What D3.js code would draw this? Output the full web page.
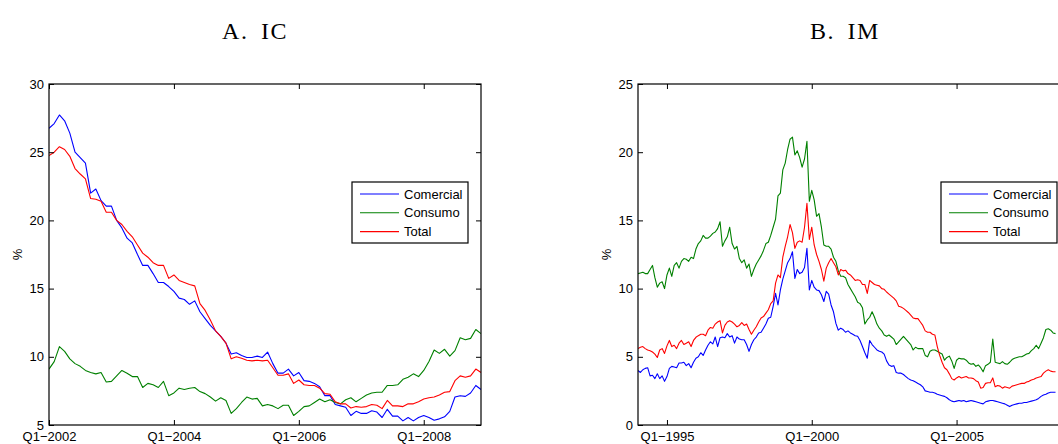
<!DOCTYPE html>
<html><head><meta charset="utf-8">
<script src="https://cdn.jsdelivr.net/npm/d3@7"></script>
<style>
body{margin:0;background:#fff;}
svg{display:block;}
.tick text{font-family:"Liberation Sans",Arial,sans-serif;font-size:13px;fill:#000;}
</style></head>
<body>
<svg id="chart" width="1058" height="444"></svg>
<script>
// ---------- DATA ----------
const seriesNames = ["Comercial", "Consumo", "Total"];
const seriesColors = ["#0000ff", "#008000", "#ff0000"];

// Panel A: IC, monthly Jan 2002 - Dec 2008
const titleA = "A. IC";
const xTickMonthsA = [0, 24, 48, 72];
const xTickLabelsA = ["Q1−2002", "Q1−2004", "Q1−2006", "Q1−2008"];
const yTicksA = [5, 10, 15, 20, 25, 30];
const comercialA = [26.75,27.1,27.73,27.3,26.4,25.0,24.6,24.2,22.0,22.3,
 21.45,21.05,21.05,20.0,19.45,18.7,18.35,17.5,16.7,16.7,
 16.1,15.45,15.45,15.15,14.8,14.3,14.2,13.85,14.1,13.3,
 12.8,12.3,11.9,11.5,11.0,10.2,10.3,10.1,9.95,9.95,
 10.05,9.95,10.35,9.5,8.8,8.8,9.1,8.6,8.85,8.25,
 8.2,8.05,7.8,7.15,7.15,6.5,6.4,6.3,5.7,6.0,
 5.85,5.85,6.05,5.95,5.55,6.15,5.65,5.65,5.3,5.55,
 5.3,5.55,5.7,5.55,5.35,5.45,5.6,6.0,7.05,7.15,
 7.1,7.35,7.9,7.6];
const consumoA = [9.1,9.65,10.75,10.4,9.85,9.5,9.3,9.0,8.85,8.75,
 8.85,8.15,8.2,8.6,9.0,8.8,8.55,8.55,7.75,8.05,
 7.95,7.75,8.2,7.15,7.35,7.7,7.6,7.7,7.75,7.45,
 7.3,7.05,6.75,7.0,6.8,5.85,6.2,6.65,7.05,6.9,
 6.95,6.4,6.5,6.4,6.2,6.45,6.45,5.7,6.0,6.35,
 6.4,6.65,6.9,6.7,6.85,6.65,6.55,6.85,7.0,6.7,
 6.95,7.2,7.35,7.4,7.4,7.9,7.9,7.95,8.35,8.5,
 8.75,8.55,9.0,9.65,10.5,10.25,10.55,10.05,10.45,11.4,
 11.25,11.35,12.0,11.7];
const totalA = [24.75,25.0,25.4,25.2,24.7,23.8,23.4,23.05,21.6,21.55,
 21.4,20.6,20.6,20.0,19.7,19.2,18.8,18.2,17.6,17.3,
 16.9,16.7,16.7,15.75,16.0,15.6,15.45,15.3,15.2,13.9,
 13.4,12.7,11.9,11.5,11.0,9.85,10.0,9.9,9.75,9.7,
 9.75,9.7,9.75,9.2,8.65,8.65,8.75,8.05,8.3,7.95,
 7.9,7.9,7.7,7.3,7.25,6.7,6.55,6.55,6.25,6.35,
 6.3,6.35,6.5,6.45,6.2,6.8,6.4,6.4,6.35,6.55,
 6.55,6.7,6.9,7.0,7.05,7.2,7.4,7.45,8.25,8.6,
 8.5,8.6,9.1,8.85];

// Panel B: IM, monthly Jan 1994 - Dec 2008 (visible part)
const titleB = "B. IM";
const xTickMonthsB = [12, 72, 132];
const xTickLabelsB = ["Q1−1995", "Q1−2000", "Q1−2005"];
const yTicksB = [0, 5, 10, 15, 20, 25];
const comercialB = [4.0,3.85,4.05,4.15,4.2,3.6,3.65,3.4,3.75,3.4,
 3.6,3.2,3.55,4.15,4.3,4.25,4.2,4.55,4.55,4.6,
 4.35,4.5,4.2,4.6,4.9,5.0,5.3,5.1,5.5,5.85,
 6.1,5.95,6.45,5.75,6.4,6.45,6.4,6.7,6.45,6.55,
 6.0,6.45,6.3,6.25,6.25,5.9,5.4,5.9,6.25,6.45,
 6.75,6.8,7.1,7.4,7.82,7.9,8.7,9.65,8.8,9.9,
 10.7,11.3,11.9,12.2,12.7,10.75,11.4,11.1,11.2,11.55,
 12.95,9.9,10.6,10.1,9.9,9.85,9.55,9.05,9.8,9.6,
 8.8,8.3,7.45,6.95,7.1,7.0,6.8,6.9,6.75,6.65,
 6.55,6.5,6.2,5.75,5.3,4.9,6.2,5.9,5.7,5.5,
 5.4,5.35,5.2,4.7,4.4,4.3,4.35,3.85,3.8,3.8,
 3.7,3.55,3.4,3.3,3.25,3.15,3.05,2.95,2.8,2.5,
 2.45,2.4,2.4,2.35,2.25,2.2,2.15,2.1,2.0,1.85,
 1.75,1.7,1.75,1.8,1.75,1.8,1.7,1.75,1.8,1.75,
 1.7,1.65,1.6,1.55,1.7,1.75,1.8,1.8,1.75,1.7,
 1.65,1.6,1.55,1.45,1.35,1.45,1.5,1.55,1.6,1.6,
 1.65,1.65,1.7,1.75,1.8,1.85,1.95,2.1,2.2,2.25,
 2.35,2.4,2.4,2.4];
const consumoB = [11.1,11.15,11.2,11.1,11.1,11.4,11.7,10.8,10.1,10.4,
 10.5,10.0,11.0,11.5,10.9,11.7,11.9,11.5,12.0,12.2,
 12.15,12.0,12.3,12.2,12.9,13.3,13.5,13.9,13.7,13.7,
 13.85,14.05,14.15,14.4,14.9,13.1,13.5,13.8,14.5,13.3,
 12.9,13.1,12.2,11.9,12.1,11.5,11.8,10.9,11.4,11.8,
 12.1,12.4,12.8,13.3,13.4,13.9,14.5,15.1,16.8,17.0,
 18.7,19.2,20.2,20.95,21.1,19.8,20.1,19.6,18.9,19.5,
 20.8,16.4,17.2,16.5,15.3,15.5,14.5,13.2,13.1,13.1,
 12.9,12.3,12.0,11.3,10.9,10.9,10.8,10.3,10.0,9.7,
 9.4,9.0,8.9,8.6,7.4,7.7,7.9,8.3,7.9,7.4,
 7.1,6.9,6.6,6.5,6.6,6.45,6.3,5.9,6.1,6.3,
 6.5,6.3,6.1,5.9,5.5,5.7,5.6,5.6,5.6,5.1,
 5.0,5.4,5.5,5.5,5.4,5.3,5.2,4.75,4.95,5.05,
 4.7,4.15,4.75,4.9,4.85,4.85,4.75,4.55,4.45,4.5,
 4.3,4.4,4.2,3.9,4.35,4.45,4.6,6.3,4.6,4.55,
 4.5,4.65,4.5,4.45,4.6,4.8,4.9,4.95,5.0,5.0,
 5.1,5.2,5.25,5.45,5.6,5.85,5.6,6.0,6.4,7.0,
 7.05,6.95,6.75,6.7];
const totalB = [5.6,5.7,5.75,5.6,5.5,5.45,5.35,5.2,4.95,5.5,
 5.6,5.25,5.8,6.2,5.75,5.85,5.6,6.0,6.2,5.9,
 6.0,6.1,5.75,6.2,6.43,6.55,6.65,6.65,6.55,6.95,
 7.15,7.1,7.4,7.55,7.65,6.75,7.3,7.55,7.65,7.55,
 7.4,7.2,7.3,7.5,7.3,7.4,7.0,6.65,6.95,7.2,
 7.55,7.85,7.95,8.2,8.45,8.9,9.1,10.4,11.0,10.8,
 12.3,13.1,13.8,14.7,14.1,12.95,13.4,13.5,13.4,14.5,
 16.25,13.6,14.5,13.2,12.5,12.0,11.4,10.55,11.5,11.9,
 12.2,11.9,11.6,11.0,11.4,11.3,11.35,11.1,11.0,10.8,
 10.6,10.65,10.6,10.3,10.3,9.65,10.6,10.45,10.3,10.25,
 10.2,10.0,9.95,9.75,9.6,9.45,9.3,9.1,8.7,8.65,
 8.55,8.4,8.25,8.05,7.85,7.8,7.8,7.55,7.3,6.9,
 6.8,6.8,6.65,6.6,5.75,5.1,4.6,4.2,4.05,3.75,
 3.4,3.3,3.45,3.55,3.45,3.5,3.55,3.45,3.45,3.4,
 3.25,3.15,2.7,2.75,3.05,3.1,3.1,3.45,2.8,2.9,
 2.85,2.7,2.8,2.75,2.7,2.85,2.9,2.95,3.0,3.05,
 3.05,3.15,3.2,3.3,3.35,3.45,3.5,3.55,3.8,3.95,
 4.05,3.95,3.9,3.9];

// ---------- DRAW ----------
const svg = d3.select("#chart");
const fontSans = '"Liberation Sans", Arial, sans-serif';

function panel(cfg) {
  const {left, top, width, height, nMonths, yDomain, yTicks, xTickMonths, xTickLabels,
         series, title, titleX, legendX, clipId} = cfg;
  const x = d3.scaleLinear().domain([0, nMonths - 1]).range([left, left + width]);
  const y = d3.scaleLinear().domain(yDomain).range([top + height, top]);
  const g = svg.append("g");

  svg.append("defs").append("clipPath").attr("id", clipId)
    .append("rect").attr("x", left).attr("y", top).attr("width", width).attr("height", height);

  // title
  g.append("text").attr("x", titleX).attr("y", 38.5)
    .attr("text-anchor", "middle")
    .style("font-family", '"Liberation Serif", "DejaVu Serif", serif')
    .style("font-size", "24px")
    .style("letter-spacing", "1.5px")
    .style("word-spacing", "5px")
    .text(title);

  // lines
  const line = d3.line().x((d, i) => x(i)).y(d => y(d));
  const lg = g.append("g").attr("clip-path", `url(#${clipId})`);
  series.forEach((s, k) => {
    lg.append("path").datum(s).attr("d", line)
      .attr("fill", "none").attr("stroke", seriesColors[k]).attr("stroke-width", 1.1)
      .attr("stroke-linejoin", "round");
  });

  // axes (ticks inward)
  const fmt = (d) => xTickLabels[xTickMonths.indexOf(d)];
  g.append("g").attr("transform", `translate(0,${top + height})`)
    .call(d3.axisBottom(x).tickValues(xTickMonths).tickFormat(fmt).tickSizeInner(-5).tickSizeOuter(0).tickPadding(7))
    .call(a => a.select(".domain").remove());
  g.append("g").attr("transform", `translate(0,${top})`)
    .call(d3.axisTop(x).tickValues(xTickMonths).tickFormat("").tickSizeInner(-5).tickSizeOuter(0))
    .call(a => a.select(".domain").remove());
  g.append("g").attr("transform", `translate(${left},0)`)
    .call(d3.axisLeft(y).tickValues(yTicks).tickFormat(d3.format("d")).tickSizeInner(-5).tickSizeOuter(0).tickPadding(5))
    .call(a => a.select(".domain").remove());
  g.append("g").attr("transform", `translate(${left + width},0)`)
    .call(d3.axisRight(y).tickValues(yTicks).tickFormat("").tickSizeInner(-5).tickSizeOuter(0))
    .call(a => a.select(".domain").remove());
  g.selectAll(".tick line").attr("stroke", "#000");

  g.append("rect").attr("x", left).attr("y", top).attr("width", width).attr("height", height)
    .attr("fill", "none").attr("stroke", "#000").attr("stroke-width", 1.2);

  // y label
  g.append("text").attr("transform", `translate(${left - 32},${top + height / 2}) rotate(-90)`)
    .attr("text-anchor", "middle").attr("dy", "0.35em")
    .style("font-family", fontSans).style("font-size", "13px").text("%");

  // legend
  const lgd = g.append("g").attr("transform", `translate(${legendX},182)`);
  lgd.append("rect").attr("width", 116).attr("height", 61)
    .attr("fill", "#fff").attr("stroke", "#000").attr("stroke-width", 1.2);
  seriesNames.forEach((nm, k) => {
    const yy = 12 + k * 18.8;
    lgd.append("line").attr("x1", 8).attr("x2", 47).attr("y1", yy).attr("y2", yy)
      .attr("stroke", seriesColors[k]).attr("stroke-width", 1.1);
    lgd.append("text").attr("x", 52).attr("y", yy).attr("dy", "0.35em")
      .style("font-family", fontSans).style("font-size", "13px").text(nm);
  });
}

panel({left: 49, top: 84, width: 432, height: 341, nMonths: 84, yDomain: [5, 30], yTicks: yTicksA,
  xTickMonths: xTickMonthsA, xTickLabels: xTickLabelsA, series: [comercialA, consumoA, totalA],
  title: titleA, titleX: 255, legendX: 352, clipId: "clipA"});
panel({left: 638, top: 84, width: 432, height: 341, nMonths: 180, yDomain: [0, 25], yTicks: yTicksB,
  xTickMonths: xTickMonthsB, xTickLabels: xTickLabelsB, series: [comercialB, consumoB, totalB],
  title: titleB, titleX: 845, legendX: 941, clipId: "clipB"});
</script>
</body></html>
